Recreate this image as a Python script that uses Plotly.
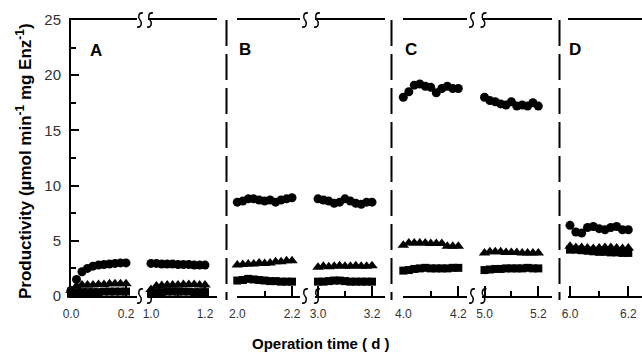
import plotly.graph_objects as go

# ---------------- data ----------------
segment_start = [0.0, 1.0, 2.0, 3.0, 4.0, 5.0, 6.0]
t_within = [0.00, 0.02, 0.04, 0.06, 0.08, 0.10, 0.12, 0.14, 0.16, 0.18, 0.20]
tick_labels = [["0.0", "0.2"], ["1.0", "1.2"], ["2.0", "2.2"], ["3.0", "3.2"],
               ["4.0", "4.2"], ["5.0", "5.2"], ["6.0", "6.2"]]
panel_labels = ["A", "B", "C", "D"]

circles = [
    [0.5, 1.5, 2.2, 2.5, 2.7, 2.8, 2.85, 2.9, 2.95, 3.0, 3.0],
    [2.95, 2.95, 2.9, 2.9, 2.9, 2.85, 2.85, 2.85, 2.8, 2.8, 2.8],
    [8.5, 8.6, 8.8, 8.8, 8.7, 8.6, 8.7, 8.5, 8.7, 8.8, 8.9],
    [8.8, 8.7, 8.6, 8.4, 8.5, 8.8, 8.6, 8.4, 8.3, 8.5, 8.5],
    [18.0, 18.5, 19.1, 19.2, 19.0, 18.9, 18.4, 18.8, 19.0, 18.8, 18.8],
    [18.0, 17.7, 17.6, 17.4, 17.3, 17.6, 17.2, 17.3, 17.2, 17.5, 17.2],
    [6.4, 5.8, 5.7, 6.2, 6.3, 6.1, 6.0, 6.2, 6.3, 6.0, 6.0],
]
triangles = [
    [0.5, 0.9, 1.0, 1.0, 1.0, 1.05, 1.05, 1.1, 1.1, 1.1, 1.1],
    [0.6, 0.9, 0.95, 1.0, 1.0, 1.0, 1.05, 1.05, 1.05, 1.0, 1.0],
    [2.8, 2.85, 2.9, 2.9, 3.0, 2.95, 3.0, 3.1, 3.1, 3.2, 3.2],
    [2.6, 2.7, 2.65, 2.7, 2.75, 2.7, 2.7, 2.75, 2.7, 2.7, 2.75],
    [4.6, 4.8, 4.8, 4.8, 4.8, 4.75, 4.75, 4.75, 4.5, 4.5, 4.5],
    [3.9, 4.0, 4.0, 4.0, 3.95, 3.95, 3.95, 3.9, 3.9, 3.9, 3.9],
    [4.5, 4.4, 4.4, 4.35, 4.3, 4.35, 4.4, 4.4, 4.35, 4.3, 4.35],
]
squares = [
    [0.2, 0.35, 0.35, 0.35, 0.35, 0.35, 0.4, 0.4, 0.4, 0.4, 0.4],
    [0.2, 0.35, 0.35, 0.4, 0.4, 0.4, 0.4, 0.4, 0.35, 0.35, 0.35],
    [1.4, 1.45, 1.55, 1.5, 1.45, 1.4, 1.35, 1.35, 1.3, 1.3, 1.3],
    [1.3, 1.3, 1.35, 1.4, 1.4, 1.35, 1.3, 1.3, 1.3, 1.3, 1.3],
    [2.3, 2.35, 2.45, 2.5, 2.55, 2.5, 2.5, 2.5, 2.5, 2.55, 2.55],
    [2.35, 2.4, 2.45, 2.45, 2.5, 2.5, 2.5, 2.5, 2.55, 2.5, 2.5],
    [4.2, 4.2, 4.15, 4.1, 4.05, 4.0, 4.0, 3.95, 3.95, 3.9, 3.9],
]
y_ticks = [0, 5, 10, 15, 20, 25]

# ---------------- layout geometry (pixels) ----------------
W, H = 642, 353
ML, MR, MT, MB = 71, 0, 20, 57
PW, PH = W - ML - MR, H - MT - MB

def fx(px):
    return (px - ML) / PW

def fy(py):
    return (MT + PH - py) / PH

# (line start px, line end px, px of first tick, px of last tick)
seg_px = [
    (71, 137, 71, 126),
    (148, 217, 151, 205),
    (237, 300, 237.3, 292),
    (315, 385, 318, 372),
    (403, 467, 403.3, 458.3),
    (482, 552, 484.5, 538.3),
    (568, 642, 570, 628.3),
]

FONT = "Liberation Sans, Arial, Helvetica, sans-serif"
fig = go.Figure()

for i, s in enumerate(segment_start):
    xn = "x" if i == 0 else f"x{i+1}"
    xs = [s + t for t in t_within]
    for vals, sym, sz in ((circles[i], "circle", 9),
                          (triangles[i], "triangle-up", 10),
                          (squares[i], "square", 8)):
        fig.add_trace(go.Scatter(
            x=xs, y=vals, mode="markers", xaxis=xn, yaxis="y",
            marker=dict(symbol=sym, size=sz, color="black", line=dict(width=0)),
            cliponaxis=False, showlegend=False, hoverinfo="skip"))

    p0, p1, pa, pb = seg_px[i]
    scale = (pb - pa) / 0.2
    r0 = s - (pa - p0) / scale
    r1 = s + 0.2 + (p1 - pb) / scale
    ax = dict(
        domain=[fx(p0), fx(p1)], range=[r0, r1], anchor="y", automargin=False,
        showline=True, linewidth=2, linecolor="black", mirror=True,
        ticks="inside", ticklen=10, tickwidth=1.5, tickcolor="black",
        tickmode="array", tickvals=[s, s + 0.2], ticktext=tick_labels[i],
        minor=dict(tickmode="array", tickvals=[s + 0.1], ticks="inside",
                   ticklen=5, tickwidth=1.5, tickcolor="black"),
        showgrid=False, zeroline=False, fixedrange=True, ticklabelstandoff=6,
        tickfont=dict(size=12, color="#333333", family=FONT),
    )
    fig.layout["xaxis" if i == 0 else f"xaxis{i+1}"] = ax

fig.update_layout(
    width=W, height=H,
    margin=dict(l=ML, r=MR, t=MT, b=MB, autoexpand=False),
    paper_bgcolor="white", plot_bgcolor="white",
    yaxis=dict(domain=[0, 1], range=[0, 25], anchor="x", automargin=False,
               showline=True, linewidth=2, linecolor="black",
               ticks="inside", ticklen=8, tickwidth=1.5, tickcolor="black",
               tickmode="array", tickvals=y_ticks, ticklabelstandoff=5,
               minor=dict(dtick=2.5, ticks="inside", ticklen=5, tickwidth=1.5,
                          tickcolor="black"),
               showgrid=False, zeroline=False, fixedrange=True,
               tickfont=dict(size=15, color="#333333", family=FONT)),
    font=dict(family=FONT, color="black"),
)

shapes = []
# dashed panel separators
for xp in (226.5, 391.5, 559.5):
    shapes.append(dict(type="line", xref="paper", yref="paper",
                       x0=fx(xp), x1=fx(xp), y0=fy(20), y1=fy(300),
                       line=dict(color="black", width=2, dash="26px,8px")))
# axis break marks (top and bottom): S-shaped curves
for cx in (140, 150, 305, 317, 472, 483.5):
    for cy in (20, 296):
        p = [(cx + 3, cy - 7), (cx - 2, cy - 8), (cx - 2, cy - 2), (cx, cy),
             (cx + 2, cy + 2), (cx + 2, cy + 8), (cx - 3, cy + 7)]
        q = [f"{fx(a):.5f},{fy(b):.5f}" for a, b in p]
        shapes.append(dict(type="path", xref="paper", yref="paper",
                           path=f"M{q[0]} C{q[1]} {q[2]} {q[3]} C{q[4]} {q[5]} {q[6]}",
                           line=dict(color="black", width=1.5)))
fig.update_layout(shapes=shapes)

ann = []
for lab, (px, py) in zip(panel_labels, [(96, 50), (245, 49), (411, 49), (575, 49)]):
    ann.append(dict(text=f"<b>{lab}</b>", x=fx(px), y=fy(py), xref="paper", yref="paper",
                    xanchor="center", yanchor="middle",
                    showarrow=False, font=dict(size=17, family=FONT, color="black")))
ann.append(dict(text="<b>Productivity (µmol min<sup>-1</sup> mg Enz<sup>-1</sup>)</b>",
                x=fx(24), y=fy(161), xref="paper", yref="paper", textangle=-90,
                xanchor="center", yanchor="middle",
                showarrow=False, font=dict(size=17, family=FONT, color="black")))
ann.append(dict(text="<b>Operation time ( d )</b>", x=fx(321), y=fy(343),
                xref="paper", yref="paper", xanchor="center", yanchor="middle",
                showarrow=False, font=dict(size=15, family=FONT, color="black")))
fig.update_layout(annotations=ann)

fig.write_html("out.html", config={"displayModeBar": False},
               post_script="document.body.style.margin='0';document.body.style.overflow='hidden';")
